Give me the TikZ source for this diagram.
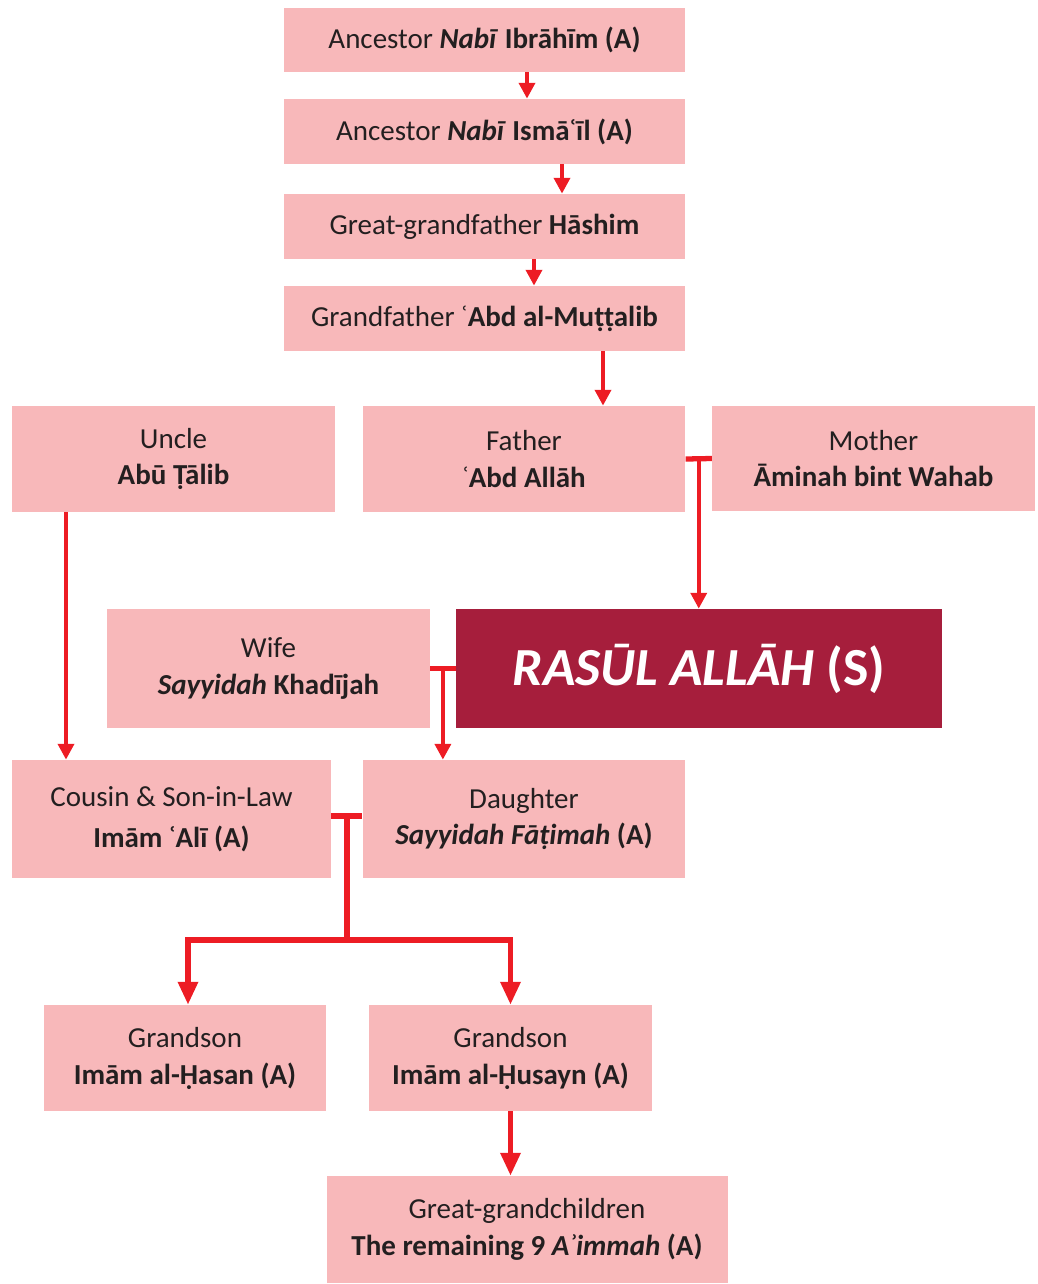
\documentclass[tikz,border=0pt]{standalone}
\usepackage{fontspec}
\setmainfont{Carlito}
\usetikzlibrary{arrows.meta, calc}
\definecolor{boxpink}{HTML}{F8B8BA}
\definecolor{prophet}{HTML}{A61E3C}
\definecolor{linered}{HTML}{ED1C24}
\definecolor{inkgray}{HTML}{231F20}

\begin{document}
\begin{tikzpicture}[
  box/.style={rectangle, fill=boxpink, inner sep=0pt, text=inkgray,
              font=\fontsize{16.5}{21}\selectfont, align=center},
  wide/.style={minimum width=8.02cm, minimum height=1.30cm},
  side/.style={minimum width=6.45cm, minimum height=2.12cm},
  prophetbox/.style={rectangle, fill=prophet, inner sep=0pt, text=white,
              minimum width=9.72cm, minimum height=2.38cm,
              font=\fontsize{30.5}{36}\selectfont\bfseries},
  arr/.style={-{Triangle[length=9pt, width=9pt]}, line width=2.4pt, linered},
  arrbig/.style={-{Triangle[length=13pt, width=11pt]}, line width=3pt, linered},
  bar/.style={line width=3pt, linered}
]
\useasboundingbox (0,0) rectangle (20.74,-25.68);

\node[box, wide, minimum height=1.28cm] (ibr) at (9.69,-0.80)  {Ancestor \textbf{\textit{Nabī}} \textbf{Ibrāhīm (A)}};
\node[box, wide] (ism) at (9.69,-2.63)  {Ancestor \textbf{\textit{Nabī} Ismāʿīl (A)}};
\node[box, wide] (hsm) at (9.69,-4.53)  {Great-grandfather \textbf{Hāshim}};
\node[box, wide] (mut) at (9.69,-6.37)  {Grandfather ʿ\textbf{Abd al-Muṭṭalib}};

\node[box, side] (unc) at (3.47,-9.18)  {Uncle\\\textbf{Abū Ṭālib}};
\node[box, side] (fat) at (10.48,-9.18) {Father\\ʿ\textbf{Abd Allāh}};
\node[box, side, minimum height=2.10cm] (mot) at (17.47,-9.17) {Mother\\\textbf{Āminah bint Wahab}};

\node[box, side, minimum height=2.38cm] (wif) at (5.37,-13.37) {Wife\\\textbf{\textit{Sayyidah} Khadījah}};
\node[prophetbox] (ras) at (13.98,-13.37) {\textit{RASŪL ALLĀH} (S)};

\node[box, side, minimum width=6.38cm, minimum height=2.36cm] (cou) at (3.43,-16.38) {Cousin \& Son-in-Law\\[2pt]\textbf{Imām ʿAlī (A)}};
\node[box, side, minimum height=2.36cm] (dau) at (10.48,-16.38) {Daughter\\\textbf{\textit{Sayyidah Fāṭimah} (A)}};

\node[box, side, minimum width=5.64cm] (hsn) at (3.70,-21.16)  {Grandson\\\textbf{Imām al-Ḥasan (A)}};
\node[box, side, minimum width=5.66cm] (hsy) at (10.21,-21.16) {Grandson\\\textbf{Imām al-Ḥusayn (A)}};
\node[box, wide, minimum height=2.14cm] (rem) at (10.54,-24.59) {Great-grandchildren\\\textbf{The remaining 9 \textit{Aʾimmah} (A)}};

% line of descent
\foreach \a/\b/\s in {ibr/ism/0.85, ism/hsm/1.55, hsm/mut/0.99, mut/fat/2.37}
  \draw[arr] ([xshift=\s cm]\a.south) -- ([xshift=\s cm]\a.south |- \b.north);
\draw[arr] ([xshift=-2.15cm]unc.south) -- ([xshift=-2.15cm]unc.south |- cou.north);

% marriages
\coordinate (fm) at ($(fat.east)!0.5!(mot.west)$);
\draw[bar] (fat.east) -- (mot.west);
\draw[arr] (fm) -- (fm |- ras.north);

\coordinate (wr) at ($(wif.east)!0.5!(ras.west)$);
\draw[bar] (wif.east) -- (ras.west);
\draw[arr] (wr) -- (wr |- dau.north);

\coordinate (cd) at ($(cou.east)!0.5!(dau.west)+(0,0.06)$);
\coordinate (split) at ($(cd)+(0,-2.48)$);
\draw[bar] (cou.east |- cd) -- (dau.west |- cd);
\draw[bar] (cd) -- (split);
\draw[arrbig] (split) -| ([xshift=0.06cm]hsn.north);
\draw[arrbig] (split) -| (hsy.north);
\draw[arrbig] (hsy.south) -- (hsy.south |- rem.north);

\end{tikzpicture}
\end{document}
